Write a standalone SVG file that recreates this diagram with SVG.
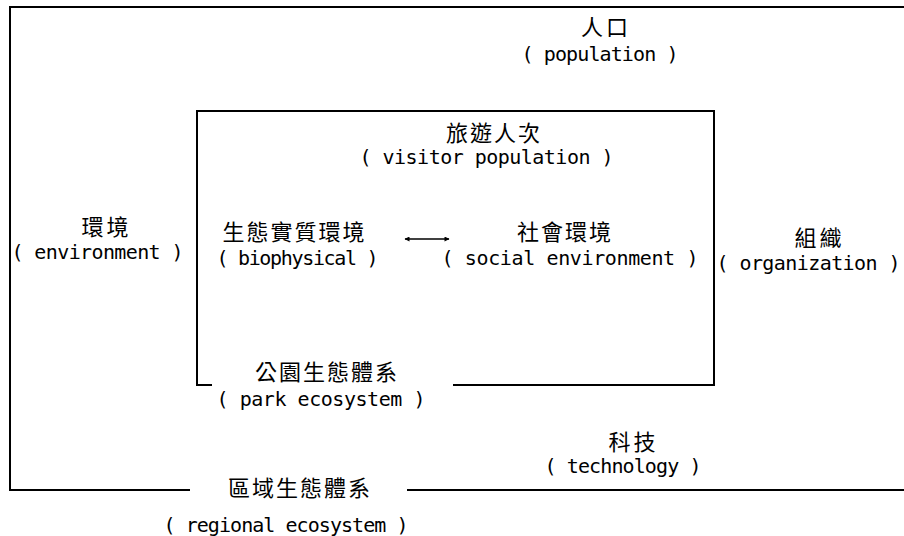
<svg xmlns="http://www.w3.org/2000/svg" width="904" height="536" viewBox="0 0 904 536">
<style>
.frame{fill:none;stroke:#000;stroke-width:2}
.zh{font-family:"Noto Sans CJK TC","Noto Sans CJK SC",sans-serif;font-size:22px;fill:#000;text-anchor:middle}
.en{font-family:"DejaVu Sans Mono","Liberation Mono",monospace;font-size:20px;fill:#000;text-anchor:middle}
.conn{stroke:#000;stroke-width:1.4;fill:none}
</style>
<defs>
<marker id="ah" viewBox="0 0 10 10" refX="9" refY="5" markerWidth="6" markerHeight="5" orient="auto-start-reverse" markerUnits="userSpaceOnUse">
<path d="M0,0 L10,5 L0,10 z" fill="#000"/>
</marker>
</defs>
<g id="regional-ecosystem">
<path class="frame" d="M190,490 H10 V7 H910 M407,490 H910"/>
<text class="zh" x="299" y="496" textLength="142" lengthAdjust="spacing">區域生態體系</text>
<text class="en" x="286" y="532" textLength="245" lengthAdjust="spacing">( regional ecosystem )</text>
</g>
<g id="population">
<text class="zh" x="604.5" y="35" textLength="47" lengthAdjust="spacing">人口</text>
<text class="en" x="600" y="60.5" textLength="157" lengthAdjust="spacing">( population )</text>
</g>
<g id="environment">
<text class="zh" x="105" y="235" textLength="47" lengthAdjust="spacing">環境</text>
<text class="en" x="97.5" y="259" textLength="172" lengthAdjust="spacing">( environment )</text>
</g>
<g id="organization">
<text class="zh" x="818" y="246" textLength="47" lengthAdjust="spacing">組織</text>
<text class="en" x="808.5" y="270" textLength="184" lengthAdjust="spacing">( organization )</text>
</g>
<g id="technology">
<text class="zh" x="632" y="450" textLength="47" lengthAdjust="spacing">科技</text>
<text class="en" x="623" y="473" textLength="157" lengthAdjust="spacing">( technology )</text>
</g>
<g id="park-ecosystem">
<path class="frame" d="M212,385 H197 V111 H714 V385 H453"/>
<text class="zh" x="326" y="380" textLength="142" lengthAdjust="spacing">公園生態體系</text>
<text class="en" x="321" y="406" textLength="209" lengthAdjust="spacing">( park ecosystem )</text>
</g>
<g id="visitor-population">
<text class="zh" x="493" y="141" textLength="94" lengthAdjust="spacing">旅遊人次</text>
<text class="en" x="486.5" y="164" textLength="254" lengthAdjust="spacing">( visitor population )</text>
</g>
<g id="biophysical">
<text class="zh" x="293.5" y="240" textLength="142" lengthAdjust="spacing">生態實質環境</text>
<text class="en" x="297.5" y="265" textLength="162" lengthAdjust="spacing">( biophysical )</text>
</g>
<g id="social-environment">
<text class="zh" x="564" y="240" textLength="94" lengthAdjust="spacing">社會環境</text>
<text class="en" x="570" y="265" textLength="257" lengthAdjust="spacing">( social environment )</text>
</g>
<g id="connectors">
<line class="conn" x1="405" y1="239" x2="449" y2="239" marker-start="url(#ah)" marker-end="url(#ah)"/>
</g>
</svg>
